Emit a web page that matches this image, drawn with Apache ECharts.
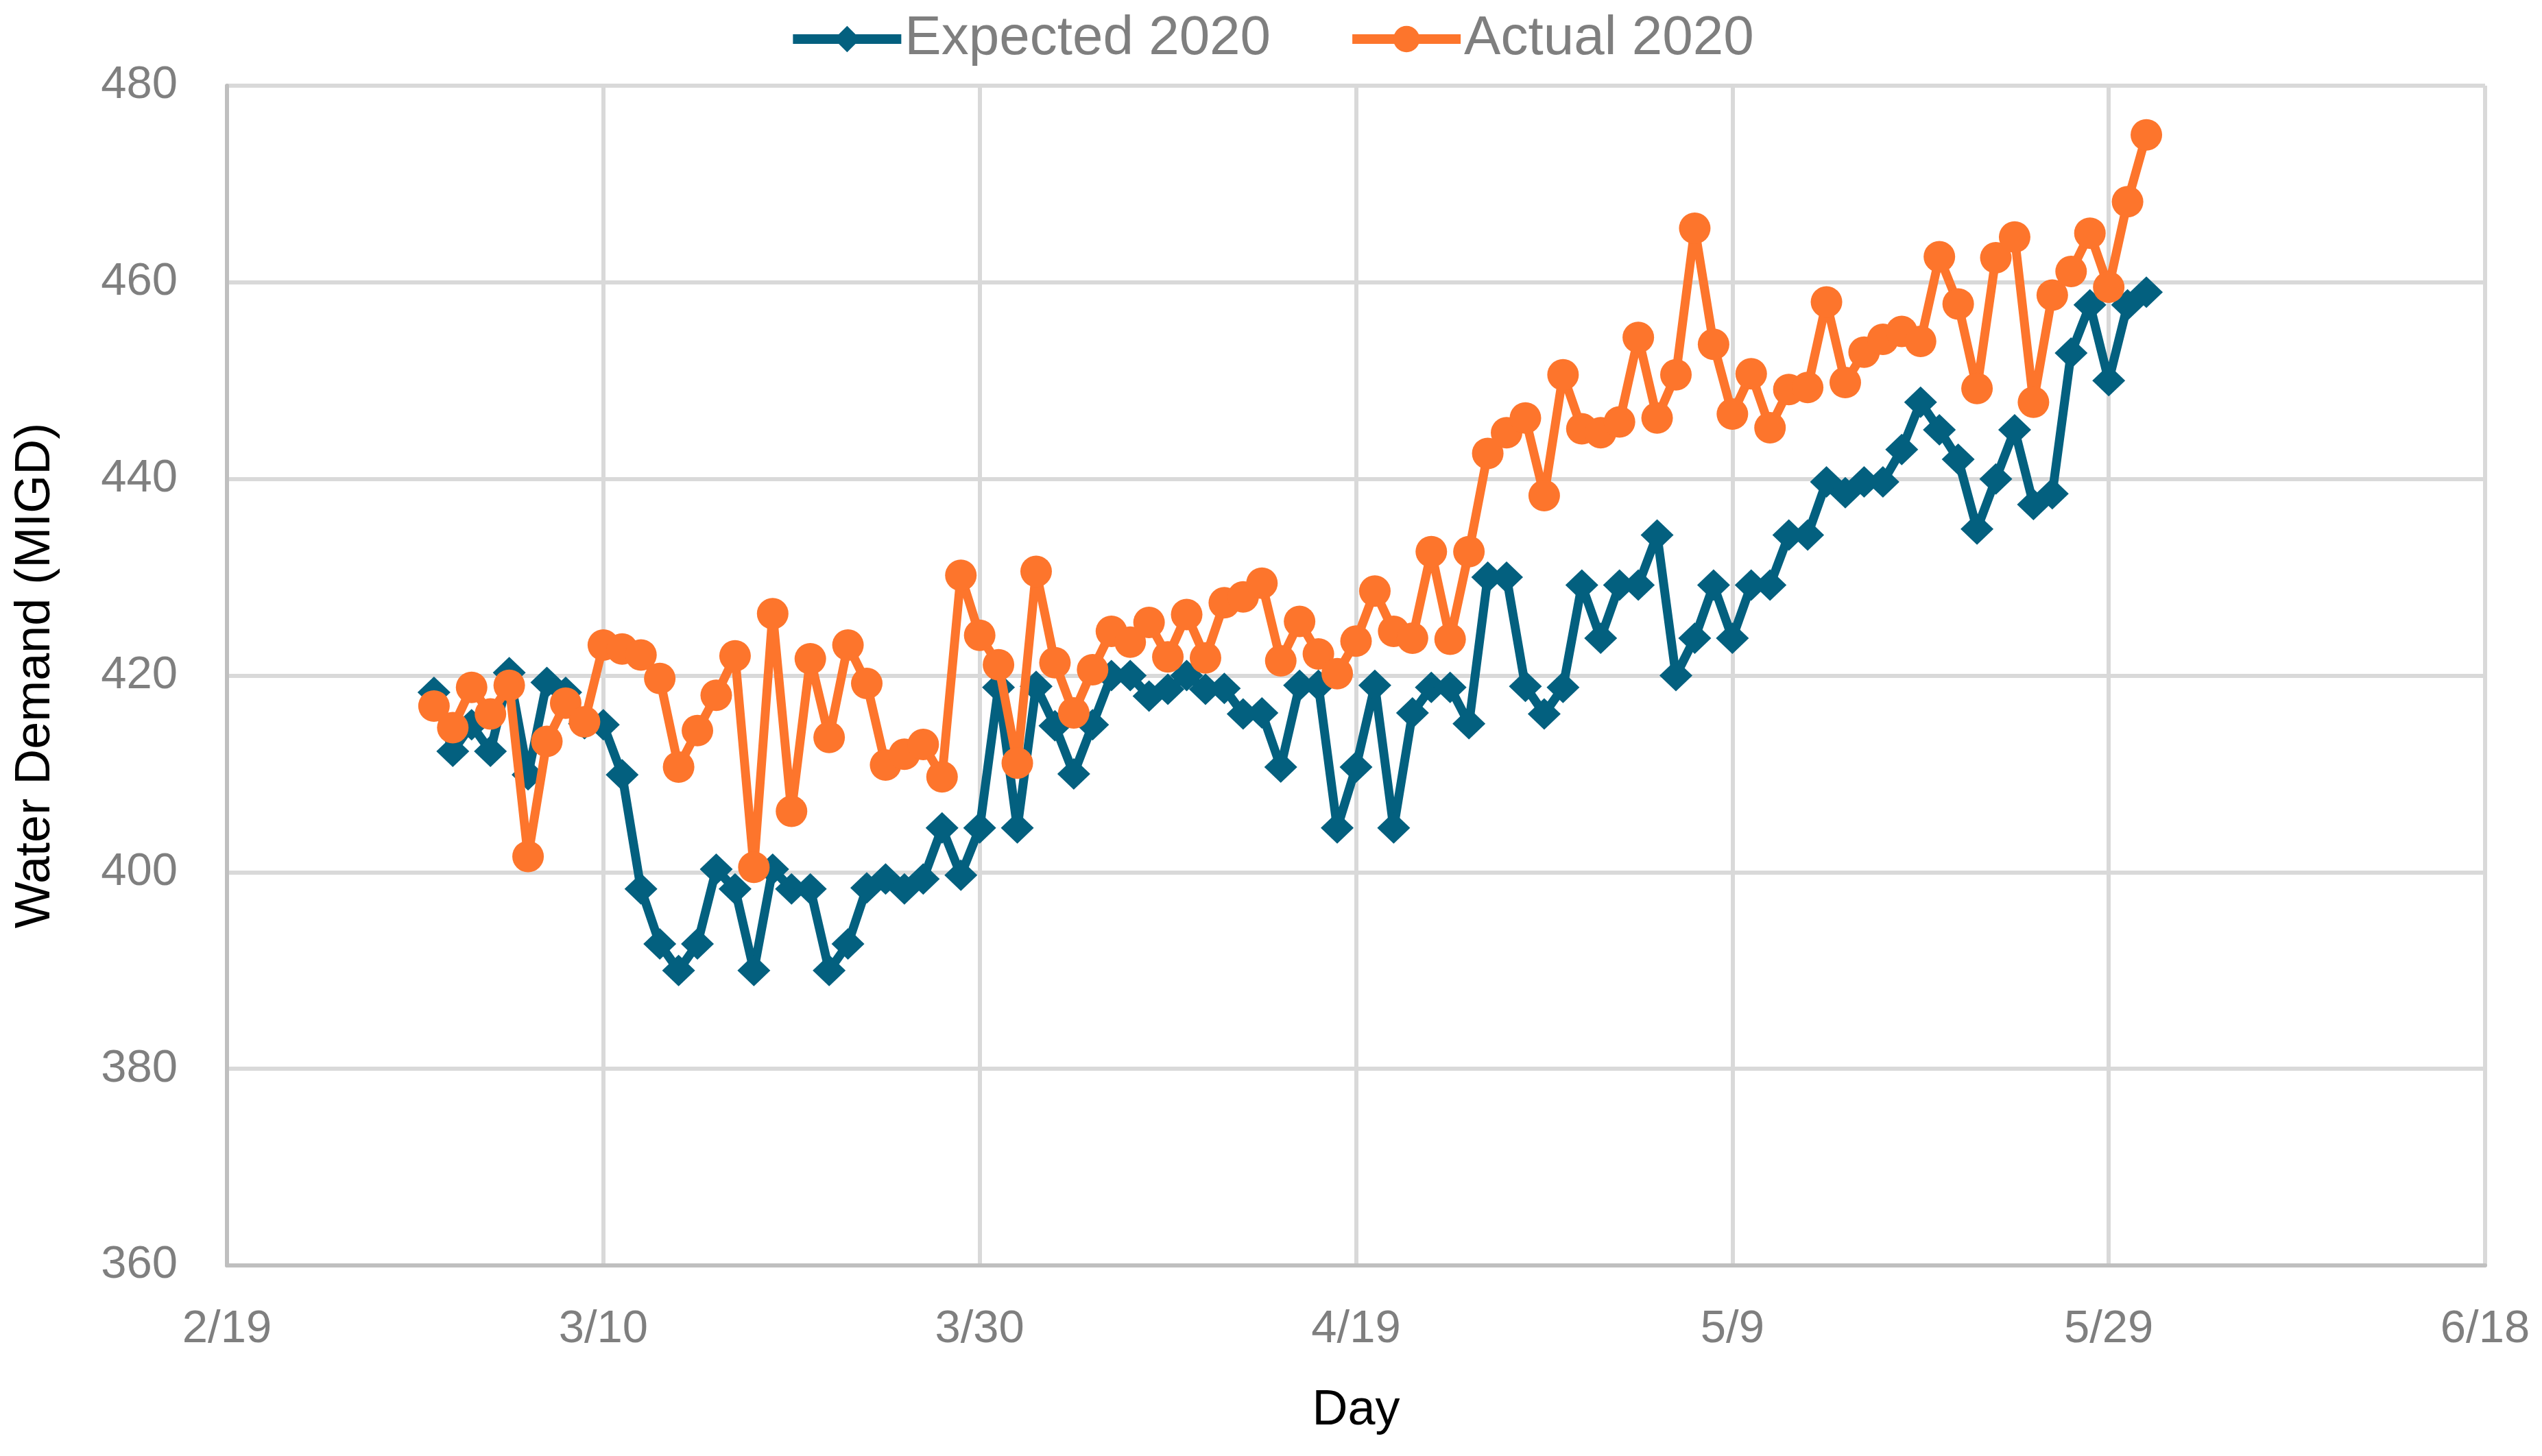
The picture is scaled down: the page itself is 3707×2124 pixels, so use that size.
<!DOCTYPE html>
<html>
<head>
<meta charset="utf-8">
<script src="https://cdn.jsdelivr.net/npm/echarts@6/dist/echarts.min.js"></script>
<style>html,body{margin:0;padding:0;background:#fff}#c{width:3707px;height:2124px}</style>
</head>
<body>
<div id="c"></div>
<script>
// ---- data ----
const firstDate = '2020-03-01';          // one value per day from this date
const expected2020 = [
  418.3, 412.3, 415.0, 412.3, 420.3, 409.9, 419.3, 418.3, 415.1, 415.0,
  409.9, 398.3, 392.7, 390.0, 392.7, 400.3, 398.3, 390.0, 400.3, 398.3,
  398.3, 390.0, 392.7, 398.4, 399.3, 398.3, 399.3, 404.5, 399.7, 404.5,
  418.8, 404.5, 418.9, 414.9, 410.0, 415.0, 420.0, 420.0, 417.9, 418.6,
  420.0, 418.6, 418.7, 416.1, 416.2, 410.7, 419.0, 419.0, 404.5, 410.7,
  419.0, 404.5, 416.2, 418.8, 418.8, 415.1, 430.0, 430.0, 418.9, 416.1,
  418.8, 429.2, 423.8, 429.2, 429.2, 434.3, 420.0, 423.8, 429.2, 423.8,
  429.2, 429.2, 434.3, 434.3, 439.7, 438.6, 439.7, 439.7, 443.0, 447.8,
  445.0, 442.0, 434.9, 440.0, 445.0, 437.4, 438.5, 452.8, 457.7, 450.0,
  457.7, 459.0
];
const actual2020 = [
  416.9, 414.7, 418.8, 416.1, 419.0, 401.6, 413.3, 417.2, 415.3, 423.1,
  422.7, 422.1, 419.7, 410.7, 414.4, 418.0, 422.0, 400.5, 426.3, 406.2,
  421.7, 413.7, 423.1, 419.2, 410.9, 412.0, 413.0, 409.7, 430.2, 424.1,
  421.1, 411.1, 430.6, 421.3, 416.2, 420.6, 424.5, 423.4, 425.4, 421.9,
  426.2, 421.8, 427.4, 428.0, 429.4, 421.5, 425.5, 422.2, 420.2, 423.5,
  428.6, 424.5, 423.8, 432.6, 423.7, 432.6, 442.6, 444.7, 446.2, 438.3,
  450.6, 445.1, 444.7, 445.8, 454.4, 446.2, 450.6, 465.5, 453.7, 446.6,
  450.7, 445.2, 449.1, 449.3, 458.0, 449.8, 452.9, 454.2, 455.0, 454.0,
  462.6, 457.8, 449.2, 462.5, 464.6, 447.8, 458.7, 461.1, 465.0, 459.5,
  468.2, 475.0
];
const seriesNames = ['Expected 2020', 'Actual 2020'];
const xAxisStart = '2020-02-19';
const xAxisEnd = '2020-06-18';
const xTickDays = 20;
const yMin = 360, yMax = 480, yStep = 20;
const axisTitles = { x: 'Day', y: 'Water Demand (MIGD)' };

// ---- helpers ----
const DAY = 86400000;
const t0 = Date.parse(xAxisStart + 'T00:00:00Z');
const dayOffset = s => Math.round((Date.parse(s + 'T00:00:00Z') - t0) / DAY);
const firstOffset = dayOffset(firstDate);
const toPairs = arr => arr.map((v, i) => [firstOffset + i, v]);
const fmtDay = v => {
  const d = new Date(t0 + v * DAY);
  return (d.getUTCMonth() + 1) + '/' + d.getUTCDate();
};

const FONT = '"Liberation Sans", Arial, sans-serif';
const BLUE = '#03607f', ORANGE = '#fd752c';
const chart = echarts.init(document.getElementById('c'), null, { renderer: 'canvas' });
chart.setOption({
  backgroundColor: '#ffffff',
  animation: false,
  textStyle: { fontFamily: FONT },
  legend: {
    top: 12,
    left: 'center',
    itemWidth: 158,
    itemHeight: 48,
    itemGap: 112,
    lineStyle: { width: 14 },
    textStyle: { fontFamily: FONT, fontSize: 80, color: '#7f7f7f' },
    data: seriesNames
  },
  grid: { left: 331, right: 83, top: 125, bottom: 278, containLabel: false },
  xAxis: {
    type: 'value',
    min: 0,
    max: dayOffset(xAxisEnd),
    interval: xTickDays,
    name: axisTitles.x,
    nameLocation: 'middle',
    nameGap: 176,
    nameTextStyle: { fontFamily: FONT, fontSize: 72, color: '#000000' },
    axisLine: { show: true, lineStyle: { color: '#bfbfbf', width: 6 } },
    axisTick: { show: false },
    axisLabel: { formatter: fmtDay, fontFamily: FONT, fontSize: 67, color: '#7f7f7f', margin: 60 },
    splitLine: { show: true, lineStyle: { color: '#d9d9d9', width: 6 } }
  },
  yAxis: {
    type: 'value',
    min: yMin,
    max: yMax,
    interval: yStep,
    name: axisTitles.y,
    nameLocation: 'middle',
    nameRotate: 90,
    nameGap: 243,
    nameTextStyle: { fontFamily: FONT, fontSize: 72, color: '#000000' },
    axisLine: { show: true, lineStyle: { color: '#bfbfbf', width: 6 } },
    axisTick: { show: false },
    axisLabel: { fontFamily: FONT, fontSize: 67, color: '#7f7f7f', margin: 72 },
    splitLine: { show: true, lineStyle: { color: '#d9d9d9', width: 6 } }
  },
  series: [
    {
      name: seriesNames[0],
      type: 'line',
      data: toPairs(expected2020),
      symbol: 'diamond',
      symbolSize: [48, 46],
      showAllSymbol: true,
      lineStyle: { color: BLUE, width: 13 },
      itemStyle: { color: BLUE },
      z: 2
    },
    {
      name: seriesNames[1],
      type: 'line',
      data: toPairs(actual2020),
      symbol: 'circle',
      symbolSize: 46,
      showAllSymbol: true,
      lineStyle: { color: ORANGE, width: 13 },
      itemStyle: { color: ORANGE },
      z: 3
    }
  ]
});
</script>
</body>
</html>
